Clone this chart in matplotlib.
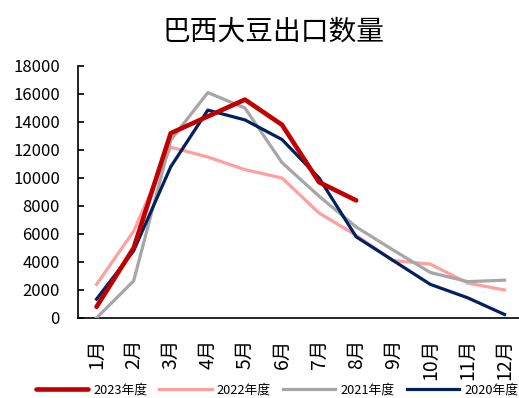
import matplotlib
matplotlib.use('Agg')
import matplotlib.pyplot as plt

plt.rcParams['font.family'] = ['Noto Sans CJK SC', 'DejaVu Sans']

months = ['1月', '2月', '3月', '4月', '5月', '6月', '7月', '8月', '9月', '10月', '11月', '12月']
y2023 = [800, 5000, 13200, 14400, 15600, 13800, 9700, 8400]
y2022 = [2400, 6200, 12200, 11500, 10600, 10000, 7500, 5900, 4100, 3850, 2500, 2000]
y2021 = [0, 2650, 12700, 16100, 15000, 11100, 8700, 6500, 4850, 3250, 2600, 2700]
y2020 = [1350, 4800, 10800, 14850, 14150, 12750, 10000, 5800, 4100, 2400, 1450, 250]

fig = plt.figure(figsize=(5.19, 3.98), dpi=100)
ax = fig.add_axes([78 / 519, 1 - 318 / 398, 441 / 519, 252 / 398])

x = list(range(len(months)))
ax.plot(x[:len(y2023)], y2023, color='#c00000', lw=3.3, label='2023年度', solid_capstyle='round', zorder=5)
ax.plot(x, y2022, color='#ff9f9f', lw=2.3, label='2022年度', zorder=2)
ax.plot(x, y2021, color='#a6a6a6', lw=2.3, label='2021年度', zorder=3)
ax.plot(x, y2020, color='#002060', lw=2.3, label='2020年度', zorder=4)

ax.set_xlim(-0.5, 11.39)
ax.set_ylim(0, 18000)
ax.set_yticks(range(0, 18001, 2000))
ax.set_xticks(x)
ax.set_xticklabels(months, rotation=90, fontsize=14)
ax.tick_params(axis='x', length=0, pad=15)
ax.tick_params(axis='y', labelsize=12, direction='in', length=4, width=1.2, pad=13)
for s in ['top', 'right']:
    ax.spines[s].set_visible(False)
ax.spines['left'].set_linewidth(1.2)
ax.spines['bottom'].set_linewidth(1.2)

fig.text(273 / 519, 1 - 32 / 398, '巴西大豆出口数量', ha='center', va='center', fontsize=20, fontweight='light')

fig.legend(loc='center', bbox_to_anchor=(277 / 519, 1 - 390 / 398), ncol=4, frameon=False,
           fontsize=9.2, handlelength=4.1, columnspacing=0.95, handletextpad=0.4)

fig.savefig('out.png', dpi=100)
